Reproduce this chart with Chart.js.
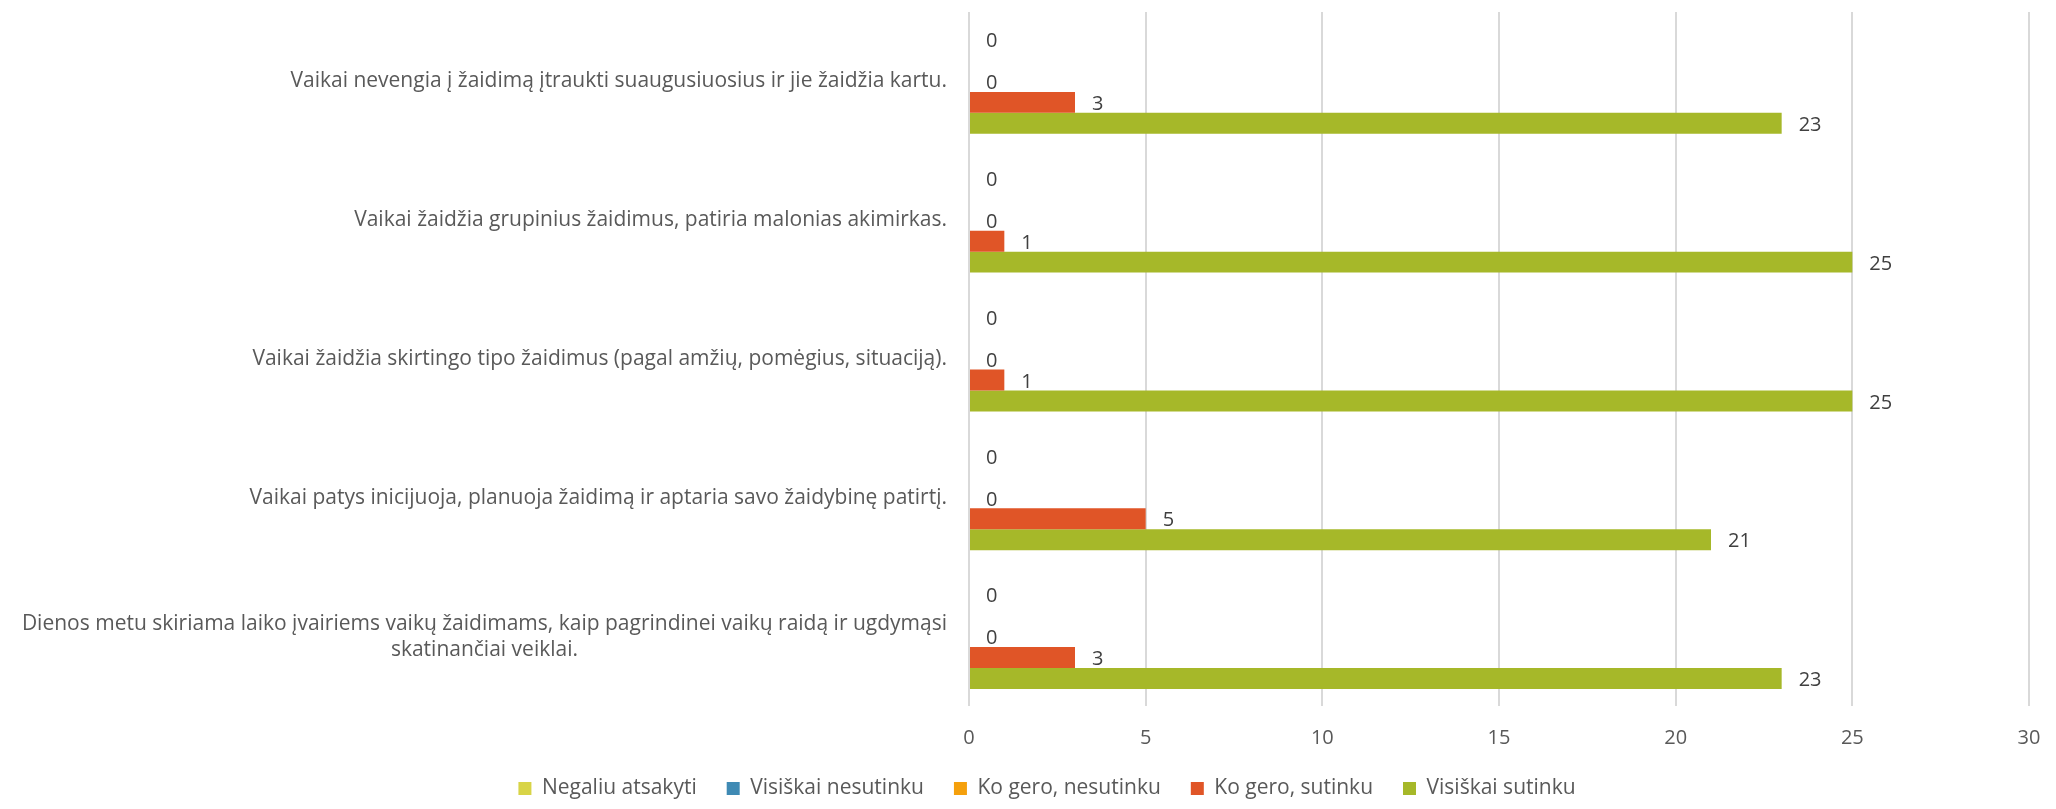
<!DOCTYPE html>
<html>
<head>
<meta charset="utf-8">
<script src="https://cdn.jsdelivr.net/npm/chart.js@4.4.1/dist/chart.umd.min.js"></script>
<style>
  body { margin: 0; background: #ffffff; }
  #wrap { width: 2056px; height: 809px; position: relative; }
</style>
</head>
<body>
<div id="wrap"><canvas id="chart"></canvas></div>
<script>
const categories = [
  ["Vaikai nevengia į žaidimą įtraukti suaugusiuosius ir jie žaidžia kartu."],
  ["Vaikai žaidžia grupinius žaidimus, patiria malonias akimirkas."],
  ["Vaikai žaidžia skirtingo tipo žaidimus (pagal amžių, pomėgius, situaciją)."],
  ["Vaikai patys inicijuoja, planuoja žaidimą ir aptaria savo žaidybinę patirtį."],
  ["Dienos metu skiriama laiko įvairiems vaikų žaidimams, kaip pagrindinei vaikų raidą ir ugdymąsi",
   "skatinančiai veiklai."],
];

const seriesNames = [
  "Negaliu atsakyti",
  "Visiškai nesutinku",
  "Ko gero, nesutinku",
  "Ko gero, sutinku",
  "Visiškai sutinku",
];

const negaliuAtsakyti = [0, 0, 0, 0, 0];
const visiskaiNesutinku = [null, null, null, null, null];
const koGeroNesutinku = [0, 0, 0, 0, 0];
const koGeroSutinku = [3, 1, 1, 5, 3];
const visiskaiSutinku = [23, 25, 25, 21, 23];

const xTicks = [0, 5, 10, 15, 20, 25, 30];

const colors = ["#d8d447", "#3f8ab4", "#f5a00c", "#e05527", "#a6b829"];
const textColor = "#595959";
const fontFamily = "'Open Sans', 'Noto Sans', sans-serif";
const fontSize = 21;

const seriesValues = [negaliuAtsakyti, visiskaiNesutinku, koGeroNesutinku, koGeroSutinku, visiskaiSutinku];

// value labels to the right of each bar end
const valueLabels = {
  id: "valueLabels",
  afterDatasetsDraw(chart) {
    const ctx = chart.ctx;
    ctx.save();
    ctx.font = "20px " + fontFamily;
    ctx.fillStyle = "#404040";
    ctx.textAlign = "left";
    ctx.textBaseline = "middle";
    chart.data.datasets.forEach((ds, i) => {
      const meta = chart.getDatasetMeta(i);
      if (meta.hidden) return;
      meta.data.forEach((bar, j) => {
        const v = ds.data[j];
        if (v === null || v === undefined) return;
        ctx.fillText(String(v), bar.x + 17, bar.y + 2);
      });
    });
    ctx.restore();
  },
};

// category labels: block right-aligned to the axis, lines centred inside it
const categoryLabels = {
  id: "categoryLabels",
  afterDraw(chart) {
    const ctx = chart.ctx;
    const y = chart.scales.y;
    const right = chart.chartArea.left - 22;
    const lineH = 26;
    ctx.save();
    ctx.font = fontSize + "px " + fontFamily;
    ctx.fillStyle = textColor;
    ctx.textAlign = "center";
    ctx.textBaseline = "middle";
    categories.forEach((lines, i) => {
      const yc = y.getPixelForTick(i);
      const maxW = Math.max(...lines.map((l) => ctx.measureText(l).width));
      lines.forEach((l, k) => {
        ctx.fillText(l, right - maxW / 2, yc + (k - (lines.length - 1) / 2) * lineH);
      });
    });
    ctx.restore();
  },
};

const ctx = document.getElementById("chart").getContext("2d");

new Chart(ctx, {
  type: "bar",
  data: {
    labels: categories.map((c) => c.join(" ")),
    datasets: seriesNames.map((name, i) => ({
      label: name,
      data: seriesValues[i],
      backgroundColor: colors[i],
      borderWidth: 0,
      barPercentage: 1.0,
      categoryPercentage: 0.755,
    })),
  },
  options: {
    indexAxis: "y",
    responsive: true,
    maintainAspectRatio: false,
    animation: false,
    layout: {
      padding: { top: 12, right: 0, left: 38, bottom: 0 },
    },
    plugins: {
      legend: {
        position: "bottom",
        labels: {
          boxWidth: 13,
          boxHeight: 13,
          padding: 30,
          color: textColor,
          font: { size: fontSize, family: fontFamily },
        },
      },
      tooltip: { enabled: false },
    },
    scales: {
      x: {
        min: xTicks[0],
        max: xTicks[xTicks.length - 1],
        ticks: {
          stepSize: xTicks[1] - xTicks[0],
          padding: 22,
          color: textColor,
          font: { size: 20, family: fontFamily, lineHeight: 1 },
        },
        grid: {
          color: "#d9d9d9",
          lineWidth: 2,
          drawTicks: false,
        },
        border: { display: false },
        afterFit: (scale) => {
          scale.height = 42;
          scale.paddingRight = 27;
        },
      },
      y: {
        ticks: { display: false },
        grid: { display: false },
        border: { display: false },
        afterFit: (scale) => {
          scale.width = 969 - 38;
        },
      },
    },
  },
  plugins: [valueLabels, categoryLabels],
});
</script>
</body>
</html>
